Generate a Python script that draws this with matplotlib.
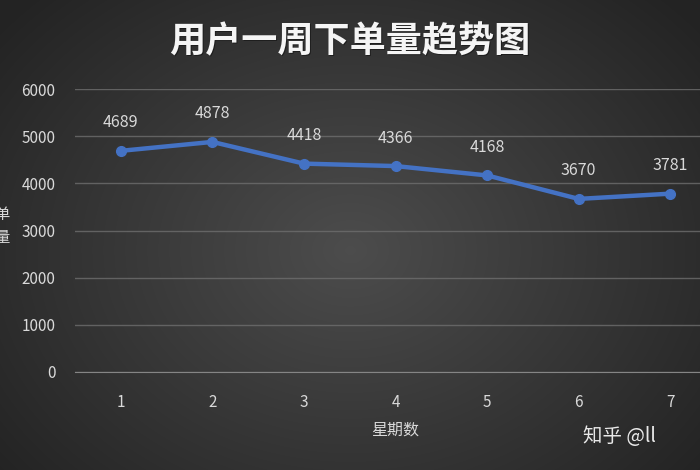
import numpy as np
import matplotlib
matplotlib.use("Agg")
import matplotlib.pyplot as plt

plt.rcParams['font.family'] = ['Noto Sans CJK SC', 'DejaVu Sans']

days = [1, 2, 3, 4, 5, 6, 7]
orders = [4689, 4878, 4418, 4366, 4168, 3670, 3781]
yticks = [0, 1000, 2000, 3000, 4000, 5000, 6000]
title = "用户一周下单量趋势图"
xlabel = "星期数"
ylabel = "单\n量"
watermark = "知乎 @ll"

W, H = 700, 470
fig = plt.figure(figsize=(W / 100, H / 100), dpi=100)

# background radial gradient
bg = fig.add_axes([0, 0, 1, 1], zorder=-10)
yy, xx = np.mgrid[0:H, 0:W]
r = np.sqrt(((xx - 350) / 420.0) ** 2 + ((yy - 250) / 330.0) ** 2)
v = np.clip(0.30 - 0.15 * r, 0.14, 0.30)
img = np.dstack([v, v, v])
bg.imshow(img, extent=[0, 1, 0, 1], aspect='auto', origin='upper')
bg.axis('off')

ax = fig.add_axes([75 / W, (H - 372) / H, (716 - 75) / W, (372 - 89) / H])
ax.set_facecolor('none')
ax.plot(days, orders, color='#4472C4', lw=3.2, marker='o', ms=7,
        markerfacecolor='#4472C4', markeredgecolor='#4472C4', zorder=3)
for x, y in zip(days, orders):
    ax.annotate(f"{y}", (x, y), xytext=(0, 14), textcoords='offset points',
                ha='center', va='bottom', color='#d9d9d9', fontsize=11.5)

ax.set_xlim(0.5, 7.5)
ax.set_ylim(0, 6000)
ax.set_xticks(days)
ax.set_yticks(yticks)
ax.grid(axis='y', color='#6e6e6e', lw=1.0, alpha=0.8)
ax.set_axisbelow(True)
for s in ax.spines.values():
    s.set_visible(False)
ax.spines['bottom'].set_visible(True)
ax.spines['bottom'].set_color('#858585')
ax.tick_params(axis='both', length=0, colors='#d9d9d9', labelsize=11)
ax.tick_params(axis='x', pad=16)
ax.tick_params(axis='y', pad=14)

fig.text(351 / W, 1 - 43 / H, title, ha='center', va='center',
         color='#111111', fontsize=26, fontweight='bold', alpha=0.6)
fig.text(350 / W, 1 - 42 / H, title, ha='center', va='center',
         color='#f5f5f5', fontsize=26, fontweight='bold')
fig.text(395 / W, 1 - 430 / H, xlabel, ha='center', va='center',
         color='#d9d9d9', fontsize=11.5)
fig.text(-6 / W, 1 - 226 / H, ylabel, ha='left', va='center',
         color='#d9d9d9', fontsize=11, linespacing=1.4)
fig.text(583 / W, 1 - 436 / H, watermark, ha='left', va='center',
         color='#e8e8e8', fontsize=14)

fig.savefig("out.png", dpi=100)
